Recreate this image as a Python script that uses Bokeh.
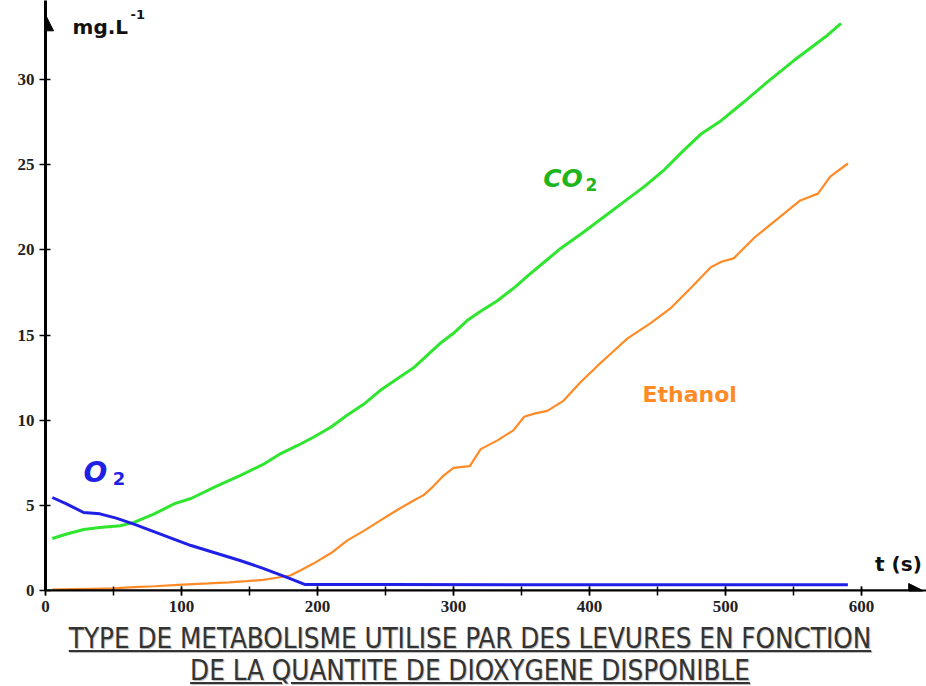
from bokeh.plotting import figure
from bokeh.models import Range1d, SingleIntervalTicker, Arrow, NormalHead, Label, Div
from bokeh.layouts import column
from bokeh.embed import file_html
from bokeh.resources import INLINE

# ---- data ----
co2_t = [5, 15, 28, 40, 55, 65, 80, 95, 107, 125, 143, 160, 173, 185, 197, 210, 222, 235,
         246, 260, 271, 290, 300, 310, 320, 332, 345, 355, 367, 379, 395, 410, 425, 440,
         455, 470, 482, 497, 513, 530, 550, 565, 575, 585]
co2_v = [3.05, 3.3, 3.58, 3.7, 3.8, 4.0, 4.5, 5.1, 5.4, 6.1, 6.75, 7.4, 8.04, 8.5, 9.0, 9.6,
         10.3, 11.0, 11.74, 12.5, 13.1, 14.5, 15.1, 15.85, 16.4, 17.0, 17.8, 18.5, 19.3, 20.1,
         21.0, 21.9, 22.8, 23.7, 24.7, 25.9, 26.8, 27.6, 28.65, 29.8, 31.1, 32.0, 32.6, 33.3]

eth_t = [5, 20, 35, 50, 65, 80, 101, 120, 135, 148, 160, 170, 180, 188, 197, 210, 222, 234,
         246, 258, 271, 278, 285, 292, 300, 312, 320, 332, 344, 352, 360, 369, 381, 393, 406,
         417, 428, 445, 460, 475, 489, 497, 506, 521, 538, 555, 568, 577, 590]
eth_v = [0.06, 0.08, 0.1, 0.12, 0.2, 0.25, 0.35, 0.42, 0.48, 0.55, 0.62, 0.75, 0.88, 1.2,
         1.58, 2.2, 2.94, 3.5, 4.1, 4.7, 5.3, 5.6, 6.1, 6.7, 7.2, 7.3, 8.3, 8.8, 9.4, 10.2,
         10.4, 10.55, 11.15, 12.2, 13.2, 14.0, 14.8, 15.7, 16.6, 17.8, 18.97, 19.3, 19.5,
         20.7, 21.8, 22.9, 23.3, 24.3, 25.07]

o2_t = [5, 15, 28, 40, 52, 65, 85, 107, 125, 143, 160, 178, 191, 250, 400, 590]
o2_v = [5.46, 5.1, 4.58, 4.5, 4.25, 3.9, 3.3, 2.64, 2.2, 1.76, 1.3, 0.76, 0.35, 0.35, 0.34, 0.34]

title_lines = ["TYPE DE METABOLISME UTILISE PAR DES LEVURES EN FONCTION",
               "DE LA QUANTITE DE DIOXYGENE DISPONIBLE"]

GREEN = "#2fe52f"
GREEN_TXT = "#1fb51f"
ORANGE = "#ff8a26"
BLUE = "#1f1fe6"

p = figure(width=926, height=622, output_backend="svg", toolbar_location=None,
           x_range=Range1d(0, 647.8), y_range=Range1d(0, 34.64),
           min_border_left=45, min_border_right=0, min_border_top=0, min_border_bottom=32)
p.outline_line_color = None
p.xgrid.visible = False
p.ygrid.visible = False

xa = p.xaxis[0]
xa.ticker = SingleIntervalTicker(interval=100, num_minor_ticks=2)
xa.axis_line_width = 2
xa.axis_line_color = "black"
xa.major_tick_in = 4
xa.major_tick_out = 5
xa.minor_tick_in = 4
xa.minor_tick_out = 5
xa.major_tick_line_width = 1.5
xa.minor_tick_line_width = 1.5
xa.major_label_standoff = 5
xa.major_label_text_font = "Liberation Serif"
xa.major_label_text_font_style = "bold"
xa.major_label_text_font_size = "17px"
xa.major_label_text_color = "#222222"

ya = p.yaxis[0]
ya.ticker = SingleIntervalTicker(interval=5, num_minor_ticks=0)
ya.axis_line_width = 3
ya.axis_line_color = "black"
ya.major_tick_in = 5
ya.major_tick_out = 6
ya.major_tick_line_width = 1.5
ya.minor_tick_line_color = None
ya.major_label_standoff = 5
ya.major_label_text_font = "Liberation Serif"
ya.major_label_text_font_style = "bold"
ya.major_label_text_font_size = "17px"
ya.major_label_text_color = "#222222"

# axis arrows
p.add_layout(Arrow(end=NormalHead(size=16, fill_color="black", line_color="black"),
                   x_start=0, y_start=0, x_end=0, y_end=33.8, line_width=3, line_color="black"))
p.add_layout(Arrow(end=NormalHead(size=14, fill_color="black", line_color="black"),
                   x_start=0, y_start=0, x_end=645, y_end=0, line_width=2, line_color="black"))

# curves
p.line(eth_t, eth_v, line_color=ORANGE, line_width=2.2)
p.line(co2_t, co2_v, line_color=GREEN, line_width=3)
p.line(o2_t, o2_v, line_color=BLUE, line_width=3)

# labels
def lab(x, y, text, size, color, style="bold"):
    p.add_layout(Label(x=x, y=y, text=text, text_font="DejaVu Sans", text_font_size=size,
                       text_font_style=style, text_color=color, text_baseline="alphabetic",
                       text_align="left"))

lab(27.9, 6.95, "O", "28px", BLUE, "bold italic")
lab(49.5, 6.55, "2", "18px", BLUE, "bold")
lab(366, 24.2, "CO", "25px", GREEN_TXT, "bold italic")
lab(397, 23.85, "2", "17px", GREEN_TXT, "bold")
lab(439, 11.5, "Ethanol", "22px", ORANGE, "bold")
lab(19.9, 33.1, "mg.L", "20px", "#111111", "bold")
lab(62.5, 33.8, "-1", "13px", "#111111", "bold")
lab(610, 1.55, "t (s)", "20px", "#111111", "bold")

html = ('<div style="width:926px;text-align:center;white-space:nowrap;'
        'font-family:\'DejaVu Sans\';font-stretch:condensed;font-size:27.5px;line-height:32px;'
        'color:#333;text-decoration:underline;text-shadow:1px 1px 1px #bbb;padding-left:14px;'
        'box-sizing:border-box;">'
        + title_lines[0] + '<br>' + title_lines[1] + '</div>')
d = Div(text=html, width=926, height=64, margin=0)

layout = column(p, d, spacing=0)
open("out.html", "w").write(file_html(layout, INLINE))
